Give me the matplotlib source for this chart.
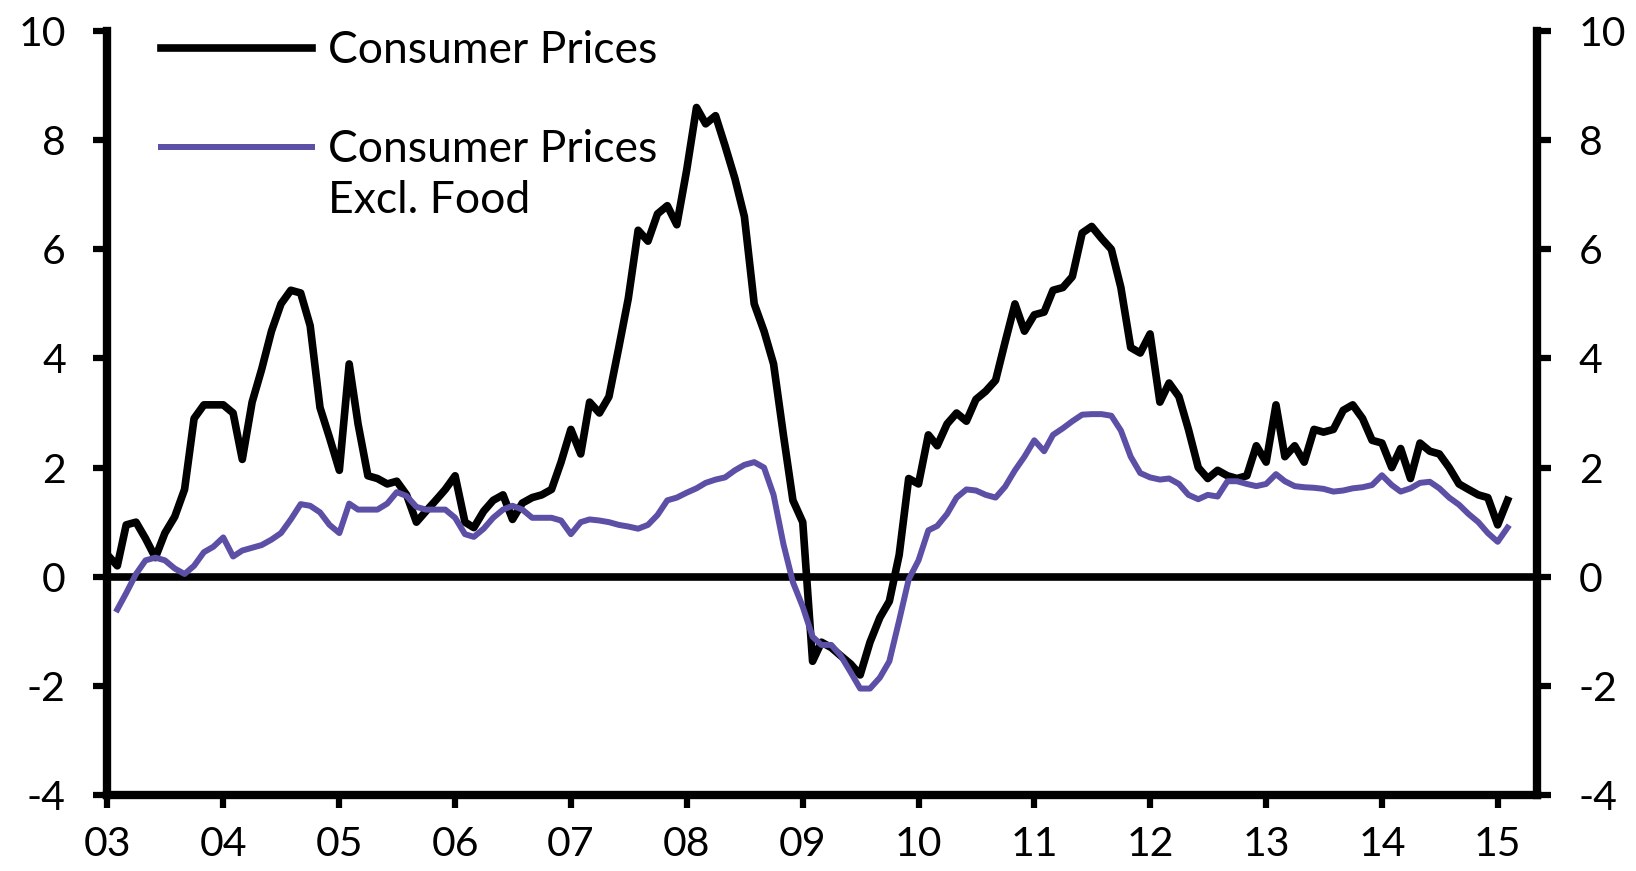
import numpy as np
import pandas as pd
import matplotlib
matplotlib.use("Agg")
import matplotlib.pyplot as plt
import matplotlib.dates as mdates

plt.rcParams['font.family'] = ['Lato', 'DejaVu Sans']
plt.rcParams['axes.unicode_minus'] = False

# monthly y/y %, Jan 2003 - Feb 2015
cpi = [0.4, 0.2, 0.95, 1.0, 0.7, 0.35, 0.8, 1.1, 1.6, 2.9, 3.15, 3.15,
       3.15, 3.0, 2.15, 3.2, 3.8, 4.5, 5.0, 5.25, 5.2, 4.6, 3.1, 2.55,
       1.95, 3.9, 2.8, 1.85, 1.8, 1.7, 1.75, 1.5, 1.0, 1.2, 1.4, 1.6,
       1.85, 1.0, 0.9, 1.2, 1.4, 1.5, 1.05, 1.35, 1.45, 1.5, 1.6, 2.1,
       2.7, 2.25, 3.2, 3.0, 3.3, 4.2, 5.1, 6.35, 6.15, 6.65, 6.8, 6.45,
       7.45, 8.6, 8.3, 8.45, 7.9, 7.3, 6.6, 5.0, 4.5, 3.9, 2.6, 1.4,
       1.0, -1.55, -1.2, -1.3, -1.45, -1.6, -1.8, -1.2, -0.75, -0.45, 0.4, 1.8,
       1.7, 2.6, 2.4, 2.8, 3.0, 2.85, 3.25, 3.4, 3.6, 4.3, 5.0, 4.5,
       4.8, 4.85, 5.25, 5.3, 5.5, 6.3, 6.42, 6.2, 6.0, 5.3, 4.2, 4.1,
       4.45, 3.2, 3.55, 3.3, 2.7, 2.0, 1.8, 1.95, 1.85, 1.8, 1.85, 2.4,
       2.1, 3.15, 2.2, 2.4, 2.1, 2.7, 2.65, 2.7, 3.05, 3.15, 2.9, 2.5,
       2.45, 2.0, 2.35, 1.8, 2.45, 2.3, 2.25, 2.0, 1.7, 1.6, 1.5, 1.45,
       0.95, 1.4]

# excl. food, Feb 2003 - Feb 2015
cpi_ex_food = [-0.6, -0.3, 0.05, 0.3, 0.35, 0.3, 0.15, 0.05, 0.2, 0.45, 0.55,
               0.72, 0.37, 0.48, 0.53, 0.58, 0.68, 0.8, 1.05, 1.33, 1.3, 1.18, 0.95,
               0.8, 1.34, 1.23, 1.23, 1.23, 1.34, 1.55, 1.48, 1.28, 1.23, 1.23, 1.23,
               1.08, 0.78, 0.73, 0.88, 1.08, 1.23, 1.3, 1.23, 1.08, 1.08, 1.08, 1.03,
               0.78, 1.0, 1.05, 1.03, 1.0, 0.95, 0.92, 0.88, 0.95, 1.13, 1.4, 1.45,
               1.54, 1.62, 1.72, 1.78, 1.82, 1.95, 2.05, 2.1, 2.0, 1.5, 0.6, -0.1,
               -0.55, -1.1, -1.25, -1.25, -1.45, -1.75, -2.05, -2.05, -1.85, -1.55, -0.8, -0.05,
               0.3, 0.85, 0.93, 1.15, 1.45, 1.6, 1.58, 1.5, 1.45, 1.65, 1.95, 2.2,
               2.5, 2.3, 2.6, 2.72, 2.85, 2.97, 2.98, 2.98, 2.95, 2.68, 2.2, 1.9,
               1.82, 1.78, 1.8, 1.7, 1.5, 1.42, 1.5, 1.47, 1.75, 1.75, 1.7, 1.66,
               1.7, 1.88, 1.75, 1.66, 1.64, 1.63, 1.61, 1.56, 1.58, 1.62, 1.64, 1.68,
               1.86, 1.68, 1.56, 1.62, 1.72, 1.74, 1.62, 1.45, 1.32, 1.15, 1.0, 0.8,
               0.64, 0.9]

dates_cpi = pd.date_range('2003-01-01', periods=len(cpi), freq='MS')
dates_ex = pd.date_range('2003-02-01', periods=len(cpi_ex_food), freq='MS')

fig = plt.figure(figsize=(16.36, 8.71), dpi=100)
ax = fig.add_axes([0.0657, 0.0873, 0.8738, 0.877])

ax.plot(dates_cpi, cpi, color='black', lw=5.5, zorder=3,
        solid_joinstyle='round', label='Consumer Prices')
ax.plot(dates_ex, cpi_ex_food, color='#5b4fa6', lw=4.3, zorder=4,
        solid_joinstyle='round', label='Consumer Prices')
ax.axhline(0, color='black', lw=5.5, zorder=2)

ax.set_ylim(-4, 10)
ax.set_yticks(np.arange(-4, 11, 2))
ax.set_xlim(pd.Timestamp('2003-01-01'), pd.Timestamp('2015-05-05'))
ax.xaxis.set_major_locator(mdates.YearLocator())
ax.xaxis.set_major_formatter(mdates.DateFormatter('%y'))

for side in ['left', 'right', 'bottom']:
    ax.spines[side].set_linewidth(6)
ax.spines['top'].set_visible(False)

ax.yaxis.set_ticks_position('both')
ax.tick_params(axis='y', direction='out', length=10, width=4.5,
               labelsize=29.5, pad=20, labelright=True)
ax.tick_params(axis='x', direction='out', length=9.5, width=4.5,
               labelsize=29.5, pad=13)

leg = ax.legend(loc='upper left', bbox_to_anchor=(0.022, 1.03), frameon=False,
                fontsize=32, handlelength=3.4, handletextpad=0.35,
                labelspacing=1.3, borderpad=0)
ax.annotate('Excl. Food', xy=(0, 0), xycoords=leg.get_texts()[1],
            xytext=(0, -7), textcoords='offset points', va='top', ha='left',
            fontsize=32, zorder=10)

fig.savefig('out.png', dpi=100, facecolor='white')
